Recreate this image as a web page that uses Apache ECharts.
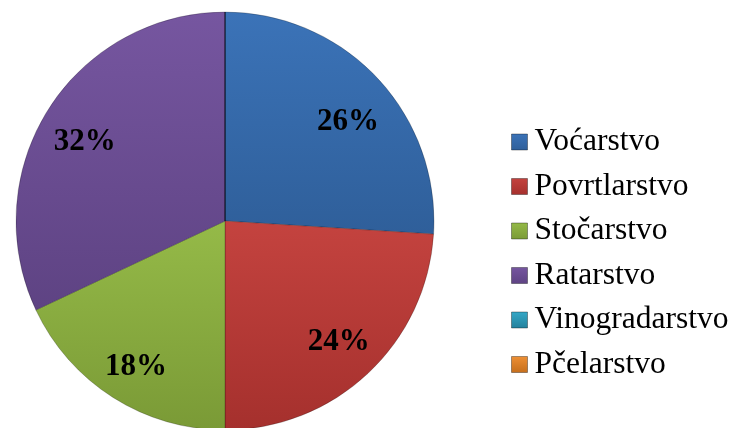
<!DOCTYPE html>
<html>
<head>
<meta charset="utf-8">
<script src="https://cdn.jsdelivr.net/npm/echarts@6/dist/echarts.min.js"></script>
<style>
  html, body { margin: 0; padding: 0; background: #fff; }
  #chart { width: 736px; height: 428px; }
</style>
</head>
<body>
<div id="chart"></div>
<script>
const categories = ["Voćarstvo", "Povrtlarstvo", "Stočarstvo", "Ratarstvo", "Vinogradarstvo", "Pčelarstvo"];
const shares = [26, 24, 18, 32, 0, 0];
// light (top) / dark (bottom) shades per slice
const lightColors = ["#3b73b8", "#c4433f", "#95ba48", "#7656a0", "#35a9c8", "#ee9035"];
const darkColors = ["#2f5f9a", "#a5302d", "#7a9a36", "#5e4383", "#24809b", "#c56e1c"];
// nudges so the percentage labels sit where the original put them
const labelOffsets = [[2, 15], [0, 0], [0, 6], [0, 10], [0, 0], [0, 0]];

const grad = (i) => new echarts.graphic.LinearGradient(0, 0, 0, 1, [
  { offset: 0, color: lightColors[i] },
  { offset: 1, color: darkColors[i] }
]);

const chart = echarts.init(document.getElementById("chart"));
chart.setOption({
  animation: false,
  legend: {
    orient: "vertical",
    left: 506,
    top: 120,
    itemWidth: 16,
    itemHeight: 16,
    itemGap: 10.5,
    icon: "rect",
    data: categories,
    textStyle: {
      fontFamily: "Liberation Serif",
      fontSize: 31.5,
      lineHeight: 34,
      color: "#000",
      padding: [0, 0, 0, 2]
    },
    itemStyle: { borderColor: "rgba(0,0,0,0.35)", borderWidth: 1 }
  },
  series: [
    {
      type: "pie",
      center: [225, 221],
      radius: 209,
      startAngle: 90,
      clockwise: true,
      label: { show: false },
      labelLine: { show: false },
      itemStyle: { borderColor: "rgba(0,0,0,0.22)", borderWidth: 1 },
      emphasis: { disabled: true },
      data: categories.map((name, i) => ({
        name: name,
        value: shares[i],
        itemStyle: { color: grad(i) }
      }))
    },
    {
      // transparent overlay used only to place the percentage labels
      type: "pie",
      center: [225, 221],
      radius: [117, 209],
      startAngle: 90,
      silent: true,
      itemStyle: { color: "transparent" },
      label: {
        position: "inside",
        formatter: (p) => (p.value ? Math.round(p.percent) + "%" : ""),
        fontFamily: "Liberation Serif",
        fontWeight: "bold",
        fontSize: 31,
        color: "#000"
      },
      labelLine: { show: false },
      emphasis: { disabled: true },
      data: categories.map((name, i) => ({
        name: name,
        value: shares[i],
        label: { offset: labelOffsets[i] }
      }))
    }
  ]
});
</script>
</body>
</html>
